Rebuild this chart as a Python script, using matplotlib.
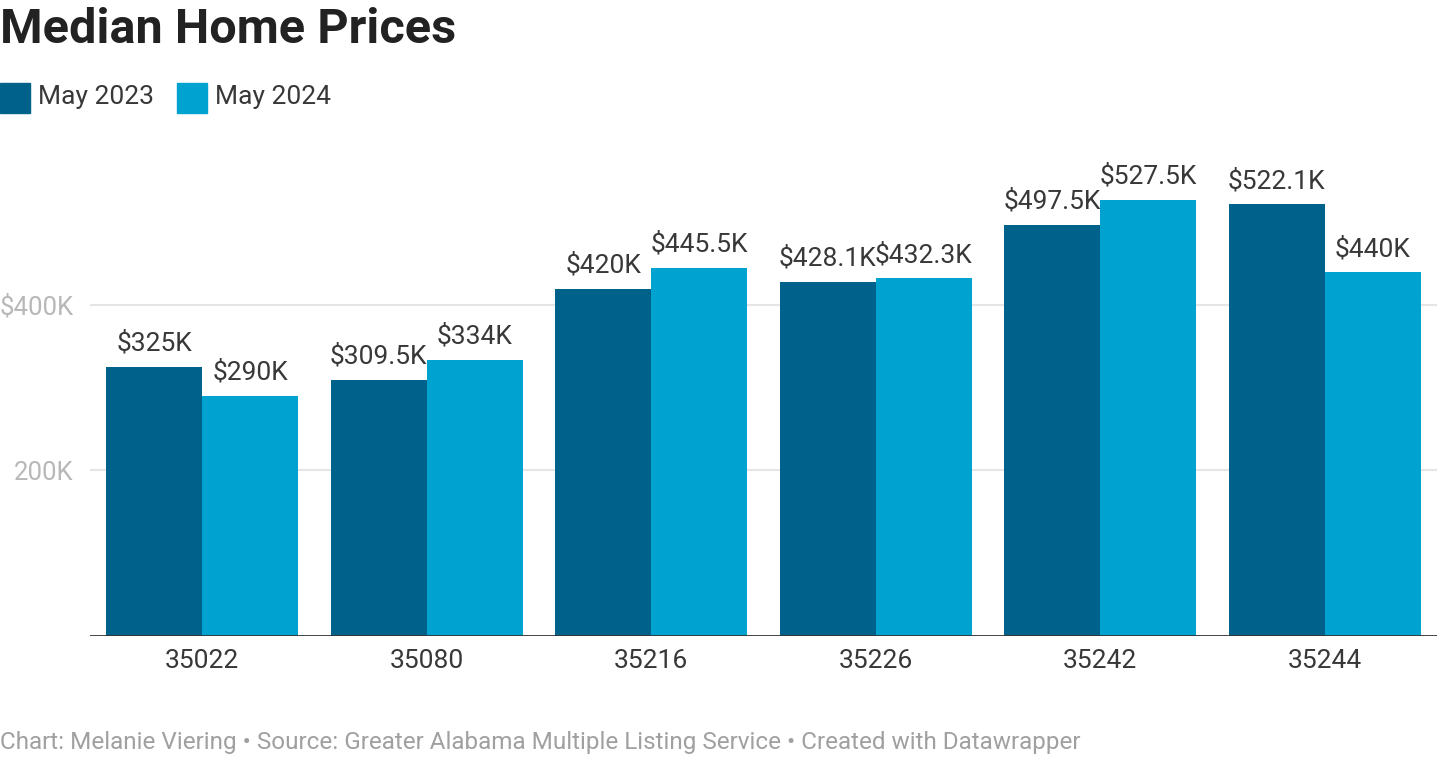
import matplotlib
matplotlib.use("Agg")
import matplotlib.pyplot as plt
import numpy as np
from matplotlib.patches import Rectangle

plt.rcParams['font.family'] = ['Roboto', 'DejaVu Sans']

zips = ["35022", "35080", "35216", "35226", "35242", "35244"]
may_2023 = [325, 309.5, 420, 428.1, 497.5, 522.1]
may_2024 = [290, 334, 445.5, 432.3, 527.5, 440]
series_names = ["May 2023", "May 2024"]
colors = ["#00628b", "#00a3d0"]
yticks = [200, 400]
ytick_labels = ["200K", "$400K"]

W, H = 1437, 759
fig = plt.figure(figsize=(W / 100, H / 100), dpi=100)

def fx(px):
    return px / W

def fy(py):
    return 1 - py / H

# axes: left 90px, baseline 635px, 0..600K maps to 635..140
ax = fig.add_axes([fx(90), fy(635.5), fx(1437 - 90), (635.5 - 140) / H])
ax.set_xlim(-0.5, len(zips) - 0.5)
ax.set_ylim(0, 600)

x = np.arange(len(zips))
w = 96 / 224.4
ax.bar(x - w / 2, may_2023, width=w, color=colors[0], zorder=2)
ax.bar(x + w / 2, may_2024, width=w, color=colors[1], zorder=2)

def fmt(v):
    if float(v).is_integer():
        return f"${int(v)}K"
    return f"${v}K"

for xs, vals in [(x - w / 2, may_2023), (x + w / 2, may_2024)]:
    for xi, v in zip(xs, vals):
        ax.annotate(fmt(v), (xi, v), xytext=(0, 8), textcoords="offset points",
                    ha="center", va="bottom", fontsize=19, color="#383838")

for yt in yticks:
    ax.axhline(yt, color="#e5e5e5", lw=1.5, zorder=1)
ax.axhline(0, color="#333333", lw=2, zorder=3)

ax.set_yticks(yticks)
ax.set_yticklabels(ytick_labels, fontsize=18.5, color="#b8b8b8")
ax.tick_params(axis="y", length=0, pad=12)
ax.set_xticks(x)
ax.set_xticklabels(zips, fontsize=19, color="#383838")
ax.tick_params(axis="x", length=0, pad=10)
for s in ax.spines.values():
    s.set_visible(False)

fig.text(fx(0), fy(30), "Median Home Prices", fontsize=35, fontweight="bold",
         color="#222222", va="center", ha="left")

# legend
for (lx, name, c) in [(0, series_names[0], colors[0]), (177, series_names[1], colors[1])]:
    fig.patches.append(Rectangle((fx(lx), fy(113)), fx(30), 30 / H,
                                 transform=fig.transFigure, color=c))
    fig.text(fx(lx + 38), fy(97), name, fontsize=19, color="#383838",
             va="center", ha="left")

fig.text(fx(0), fy(742),
         "Chart: Melanie Viering \u2022 Source: Greater Alabama Multiple Listing Service \u2022 Created with Datawrapper",
         fontsize=17.5, color="#a0a0a0", va="center", ha="left")

fig.savefig("out.png", dpi=100)
